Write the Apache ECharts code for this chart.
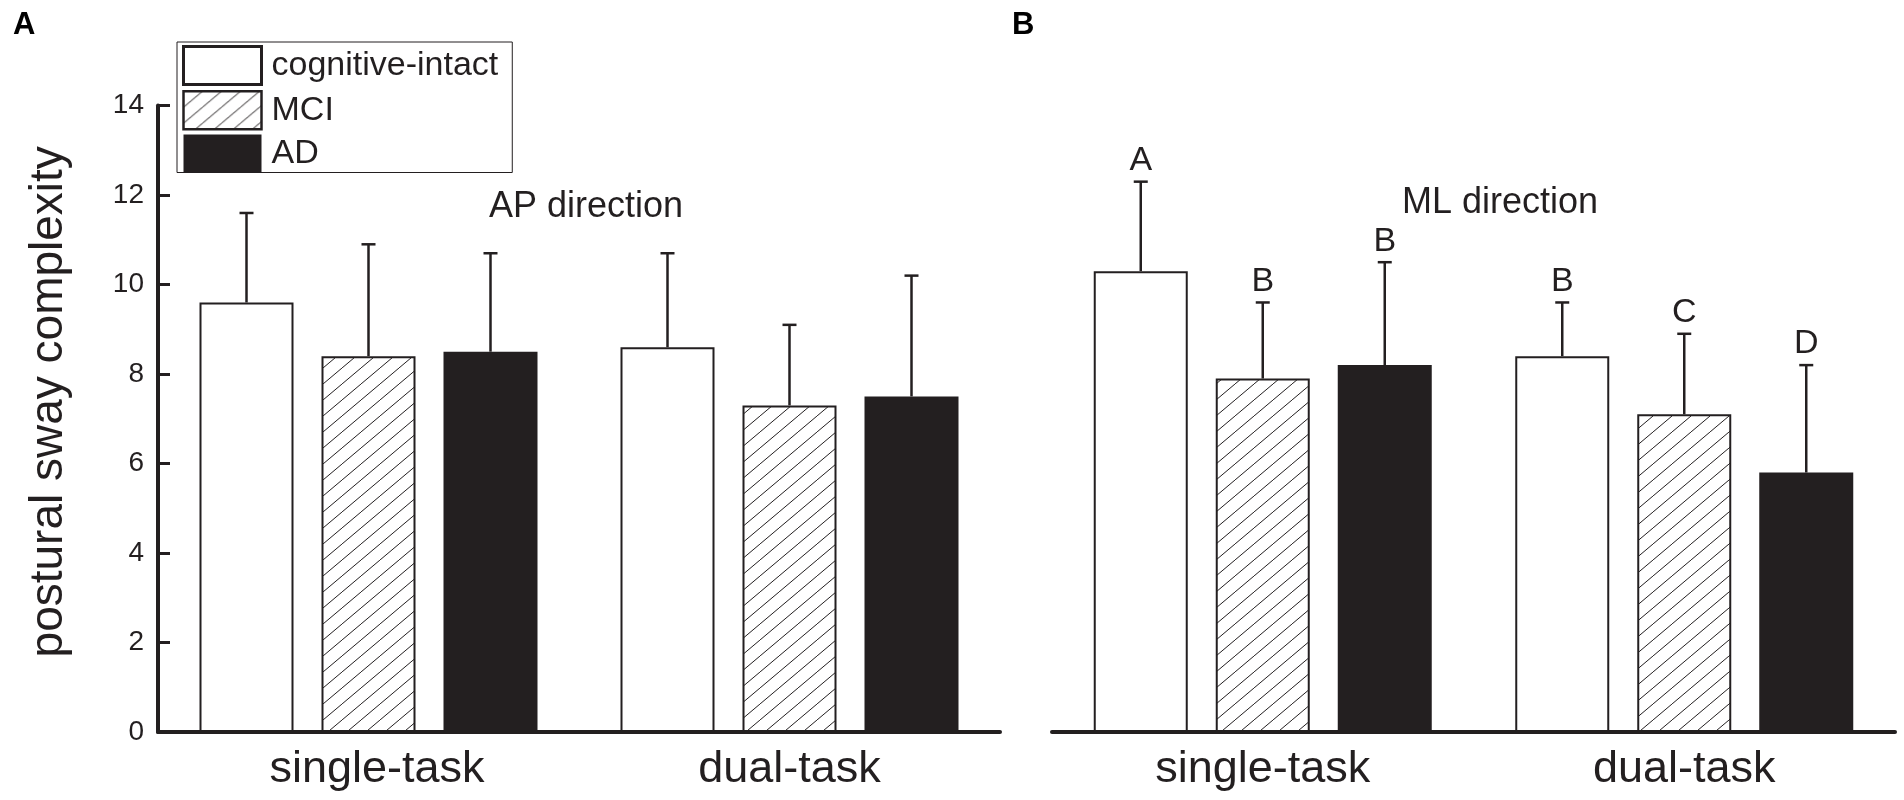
<!DOCTYPE html>
<html>
<head>
<meta charset="UTF-8"/>
<title>postural sway complexity</title>
<script src="https://cdn.jsdelivr.net/npm/echarts@6/dist/echarts.min.js"></script>
<style>
html, body { margin: 0; padding: 0; background: #fff; }
#chart { width: 1904px; height: 800px; }
</style>
</head>
<body>
<div id="chart"></div>
<script>
var categories = ['single-task', 'dual-task'];
var groups = ['cognitive-intact', 'MCI', 'AD'];

// AP direction, mean and SD
var apIntact = [9.6, 8.6];
var apIntactSd = [2.0, 2.1];
var apMci = [8.4, 7.3];
var apMciSd = [2.5, 1.8];
var apAd = [8.5, 7.5];
var apAdSd = [2.2, 2.7];

// ML direction, mean and SD
var mlIntact = [10.3, 8.4];
var mlIntactSd = [2.0, 1.2];
var mlMci = [7.9, 7.1];
var mlMciSd = [1.7, 1.8];
var mlAd = [8.2, 5.8];
var mlAdSd = [2.3, 2.4];
var mlLetters = [['A', 'B'], ['B', 'C'], ['B', 'D']];

var yMin = 0, yMax = 14, yStep = 2;

var INK = '#231f20';
var FONT = '"Liberation Sans", Arial, sans-serif';
var BAR_W = 94, BAR_GAP = 28;

// diagonal hatch tile for MCI
function hatch() {
    var w = 19, h = 16;
    var c = document.createElement('canvas');
    c.width = w; c.height = h;
    var g = c.getContext('2d');
    g.fillStyle = '#fff';
    g.fillRect(0, 0, w, h);
    g.strokeStyle = INK;
    g.lineWidth = 1;
    g.beginPath();
    g.moveTo(0, h); g.lineTo(w, 0);
    g.moveTo(-w, h); g.lineTo(0, 0);
    g.moveTo(w, h); g.lineTo(2 * w, 0);
    g.stroke();
    return c;
}
var hatchTile = hatch();

var barStyles = [
    { color: '#fff', borderColor: INK, borderWidth: 2 },
    { color: { image: hatchTile, repeat: 'repeat' }, borderColor: INK, borderWidth: 2 },
    { color: INK, borderWidth: 0 }
];

function barSeries(gi, values, axis) {
    return {
        type: 'bar',
        name: groups[gi],
        xAxisIndex: axis,
        yAxisIndex: axis,
        data: values,
        barWidth: BAR_W,
        barGap: (BAR_GAP / BAR_W * 100) + '%',
        itemStyle: barStyles[gi],
        emphasis: { disabled: true },
        z: 2
    };
}

function errSeries(gi, means, sds, letters, axis) {
    return {
        type: 'custom',
        name: groups[gi] + ' sd',
        xAxisIndex: axis,
        yAxisIndex: axis,
        z: 3,
        data: means.map(function (m, i) { return [i, m, m + sds[i]]; }),
        encode: { x: 0, y: [1, 2] },
        renderItem: function (params, api) {
            var base = api.coord([api.value(0), api.value(1)]);
            var top = api.coord([api.value(0), api.value(2)]);
            var x = base[0] + (gi - 1) * (BAR_W + BAR_GAP);
            var kids = [
                { type: 'line', shape: { x1: x, y1: base[1], x2: x, y2: top[1] }, style: { stroke: INK, lineWidth: 2.5 } },
                { type: 'line', shape: { x1: x - 7, y1: top[1], x2: x + 7, y2: top[1] }, style: { stroke: INK, lineWidth: 2.5 } }
            ];
            if (letters) {
                kids.push({
                    type: 'text',
                    x: x,
                    y: top[1] - 4,
                    style: { text: letters[params.dataIndex], fill: INK, font: '34px ' + FONT, align: 'center', verticalAlign: 'bottom' }
                });
            }
            return { type: 'group', children: kids };
        }
    };
}

var chart = echarts.init(document.getElementById('chart'));
var option = {
    animation: false,
    textStyle: { fontFamily: FONT, color: INK },
    title: [
        { text: 'A', left: 13, top: 10, padding: 0, textStyle: { fontSize: 31, fontWeight: 'bold', color: '#000', fontFamily: FONT } },
        { text: 'B', left: 1012, top: 10, padding: 0, textStyle: { fontSize: 31, fontWeight: 'bold', color: '#000', fontFamily: FONT } },
        { text: 'AP direction', left: 489, top: 189, padding: 0, textStyle: { fontSize: 36, fontWeight: 'normal', color: INK, fontFamily: FONT } },
        { text: 'ML direction', left: 1402, top: 185, padding: 0, textStyle: { fontSize: 36, fontWeight: 'normal', color: INK, fontFamily: FONT } }
    ],
    legend: {
        orient: 'vertical',
        left: 177,
        top: 42,
        padding: [3, 14, 0, 5],
        itemWidth: 78,
        itemHeight: 38,
        itemGap: 4,
        icon: 'rect',
        borderColor: INK,
        borderWidth: 1,
        selectedMode: false,
        textStyle: { fontSize: 34, color: INK, fontFamily: FONT, padding: [0, 0, 0, 5] },
        data: [
            { name: groups[0], itemStyle: { borderWidth: 3 } },
            { name: groups[1], itemStyle: { borderWidth: 2.5 } },
            { name: groups[2] }
        ]
    },
    grid: [
        { left: 158, top: 105.6, width: 842, height: 626.4 },
        { left: 1052, top: 105.6, width: 843, height: 626.4 }
    ],
    xAxis: [0, 1].map(function (i) {
        return {
            type: 'category',
            gridIndex: i,
            // the left panel's first label sits a little right of its group
            data: categories.map(function (c, k) {
                return (i === 0 && k === 0) ? { value: c, textStyle: { padding: [0, 0, 0, 17] } } : c;
            }),
            axisLine: { lineStyle: { color: INK, width: 4 } },
            axisTick: { show: false },
            axisLabel: { fontSize: 45, color: INK, margin: 15, fontFamily: FONT }
        };
    }),
    yAxis: [
        {
            type: 'value',
            gridIndex: 0,
            min: yMin, max: yMax, interval: yStep,
            splitLine: { show: false },
            axisLine: { show: true, lineStyle: { color: INK, width: 4 } },
            axisTick: { show: true, inside: true, length: 12, lineStyle: { color: INK, width: 3 } },
            axisLabel: { fontSize: 28, color: INK, margin: 14, fontFamily: FONT },
            name: 'postural sway complexity',
            nameLocation: 'middle',
            nameGap: 86,
            nameTextStyle: { fontSize: 46, color: INK, fontFamily: FONT, padding: [0, 0, 0, 34] }
        },
        {
            type: 'value',
            gridIndex: 1,
            min: yMin, max: yMax, interval: yStep,
            show: false
        }
    ],
    series: [
        barSeries(0, apIntact, 0),
        barSeries(1, apMci, 0),
        barSeries(2, apAd, 0),
        barSeries(0, mlIntact, 1),
        barSeries(1, mlMci, 1),
        barSeries(2, mlAd, 1),
        errSeries(0, apIntact, apIntactSd, null, 0),
        errSeries(1, apMci, apMciSd, null, 0),
        errSeries(2, apAd, apAdSd, null, 0),
        errSeries(0, mlIntact, mlIntactSd, mlLetters[0], 1),
        errSeries(1, mlMci, mlMciSd, mlLetters[1], 1),
        errSeries(2, mlAd, mlAdSd, mlLetters[2], 1)
    ]
};
chart.setOption(option);
</script>
</body>
</html>
